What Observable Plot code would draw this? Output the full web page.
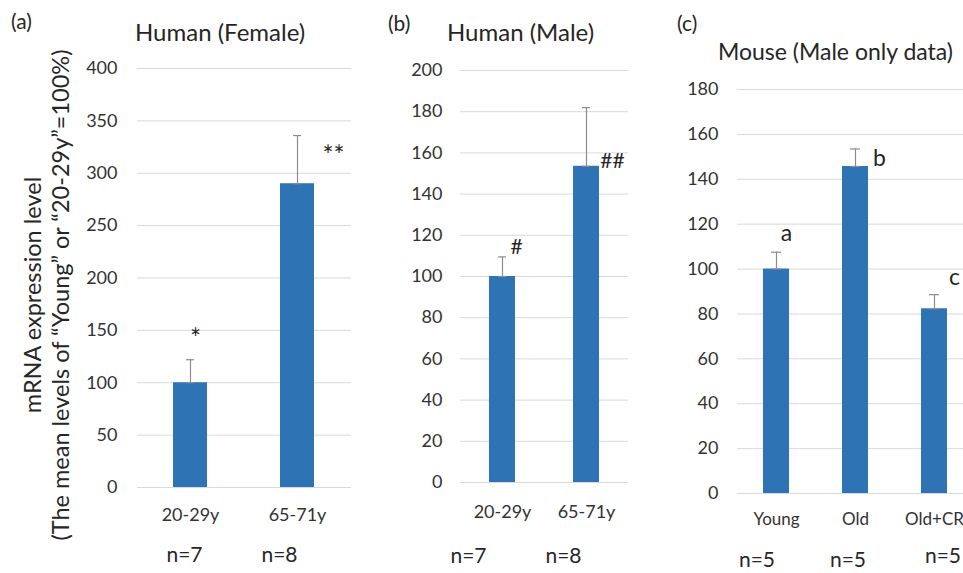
<!DOCTYPE html>
<html>
<head>
<meta charset="utf-8">
<script src="https://cdn.jsdelivr.net/npm/d3@7"></script>
<script src="https://cdn.jsdelivr.net/npm/@observablehq/plot@0.6"></script>
<style>
  html, body { margin: 0; padding: 0; background: #fff; }
  #wrap { position: relative; width: 963px; height: 573px; overflow: hidden; font-family: Lato, "Open Sans", sans-serif; color: #262626; }
  .t { position: absolute; white-space: nowrap; line-height: 1; }
  .ylab { position: absolute; white-space: nowrap; line-height: 1; transform: translate(-50%, -50%) rotate(-90deg); font-size: 23.5px; }
</style>
</head>
<body>
<div id="wrap"></div>
<script>
// ---------- data ----------
const femaleCats = ["20-29y", "65-71y"];
const femaleVals = [100, 290];
const femaleErr = [22, 46];
const femaleSig = ["*", "**"];
const femaleSigY = [141, 316];
const femaleN = ["n=7", "n=8"];
const femaleTicks = [0, 50, 100, 150, 200, 250, 300, 350, 400];

const maleCats = ["20-29y", "65-71y"];
const maleVals = [100, 153.5];
const maleErr = [9.5, 28.5];
const maleSig = ["#", "##"];
const maleSigY = [114, 156];
const maleN = ["n=7", "n=8"];
const maleTicks = [0, 20, 40, 60, 80, 100, 120, 140, 160, 180, 200];

const mouseCats = ["Young", "Old", "Old+CR"];
const mouseVals = [100, 145.7, 82.3];
const mouseErr = [7.5, 7.8, 6.3];
const mouseSig = ["a", "b", "c"];
const mouseSigY = [116, 149, 96];
const mouseN = ["n=5", "n=5", "n=5"];
const mouseTicks = [0, 20, 40, 60, 80, 100, 120, 140, 160, 180];

// ---------- helpers ----------
const wrap = document.getElementById("wrap");
const BAR = "#2E74B5", GRID = "#D9D9D9", ERR = "#8C8C8C", TXT = "#262626";

function panel(cfg) {
  const rows = cfg.cats.map((c, i) => ({cat: c, v: cfg.vals[i], top: cfg.vals[i] + cfg.err[i], sig: cfg.sig[i], sigY: cfg.sigY[i], n: cfg.n[i]}));
  const marks = [
    Plot.gridY(cfg.ticks, {stroke: GRID, strokeOpacity: 1, strokeWidth: 1}),
    Plot.barY(rows, {x: "cat", y: "v", fill: BAR}),
    Plot.ruleX(rows, {x: "cat", y1: "v", y2: "top", stroke: ERR, strokeWidth: 1.2}),
    Plot.tickY(rows, {x: "cat", y: "top", stroke: ERR, strokeWidth: 1.2, insetLeft: cfg.capInset, insetRight: cfg.capInset}),
    Plot.tickY(rows, {x: "cat", y: "v", stroke: ERR, strokeWidth: 1.2, insetLeft: cfg.capInset, insetRight: cfg.capInset}),
    Plot.axisY({ticks: cfg.ticks, tickSize: 0, tickPadding: cfg.yPad, fontSize: 18, fill: "#333", label: null}),
    Plot.axisX({tickSize: 0, tickPadding: cfg.xPad, fontSize: cfg.xFont, fill: "#333", label: null})
  ];
  rows.forEach((r, i) => {
    marks.push(Plot.text([r], {x: "cat", y: "sigY", text: "sig", dx: cfg.sigDx[i], fontSize: cfg.sigFont, fill: TXT}));
    marks.push(Plot.text([r], {x: "cat", text: "n", frameAnchor: "bottom", dx: cfg.nDx[i], dy: cfg.nDy[i], fontSize: 21, fill: TXT}));
  });
  const svg = Plot.plot({
    width: cfg.w, height: 573,
    marginLeft: cfg.ml, marginRight: cfg.mr, marginTop: cfg.mt, marginBottom: cfg.mb,
    style: {fontFamily: "Lato, 'Open Sans', sans-serif", background: "transparent", overflow: "visible"},
    x: {domain: cfg.cats, paddingInner: cfg.padIn, paddingOuter: cfg.padIn / 2, axis: null},
    y: {domain: cfg.domain, axis: null},
    marks
  });
  svg.style.position = "absolute";
  svg.style.left = cfg.x0 + "px";
  svg.style.top = "0px";
  wrap.appendChild(svg);
}

panel({cats: femaleCats, vals: femaleVals, err: femaleErr, sig: femaleSig, sigY: femaleSigY, n: femaleN, ticks: femaleTicks,
  domain: [0, 400], x0: 0, w: 360, ml: 137, mr: 9, mt: 68, mb: 86, padIn: 0.68, capInset: 13,
  yPad: 20, xPad: 21, xFont: 18, sigFont: 26, sigDx: [5, 36], nDx: [-6, -18], nDy: [74, 74]});

panel({cats: maleCats, vals: maleVals, err: maleErr, sig: maleSig, sigY: maleSigY, n: maleN, ticks: maleTicks,
  domain: [0, 200], x0: 380, w: 260, ml: 80, mr: 12, mt: 70, mb: 91, padIn: 0.69, capInset: 9,
  yPad: 18, xPad: 23, xFont: 18, sigFont: 21, sigDx: [14, 26], nDx: [-34, -23], nDy: [80, 80]});

panel({cats: mouseCats, vals: mouseVals, err: mouseErr, sig: mouseSig, sigY: mouseSigY, n: mouseN, ticks: mouseTicks,
  domain: [0, 180], x0: 680, w: 299, ml: 57, mr: 5, mt: 89, mb: 80, padIn: 0.67, capInset: 8,
  yPad: 19, xPad: 19, xFont: 17, sigFont: 23, sigDx: [10, 24, 20], nDx: [-19.5, -7.5, 8.5], nDy: [73, 73, 69]});

// ---------- text ----------
function addText(txt, left, top, size) {
  const d = document.createElement("div");
  d.className = "t";
  d.textContent = txt;
  d.style.left = left + "px";
  d.style.top = top + "px";
  d.style.fontSize = size + "px";
  wrap.appendChild(d);
}
addText("(a)", 11, 10, 21);
addText("(b)", 388, 12, 21);
addText("(c)", 677, 12, 21);
addText("Human (Female)", 135, 20, 24);
addText("Human (Male)", 447, 20, 24);
addText("Mouse (Male only data)", 718, 40, 23);

function addYLab(txt, cx, cy) {
  const d = document.createElement("div");
  d.className = "ylab";
  d.textContent = txt;
  d.style.left = cx + "px";
  d.style.top = cy + "px";
  wrap.appendChild(d);
}
addYLab("mRNA expression level", 33, 295);
addYLab("(The mean levels of \u201CYoung\u201D or \u201C20-29y\u201D=100%)", 61, 295);
</script>
</body>
</html>
